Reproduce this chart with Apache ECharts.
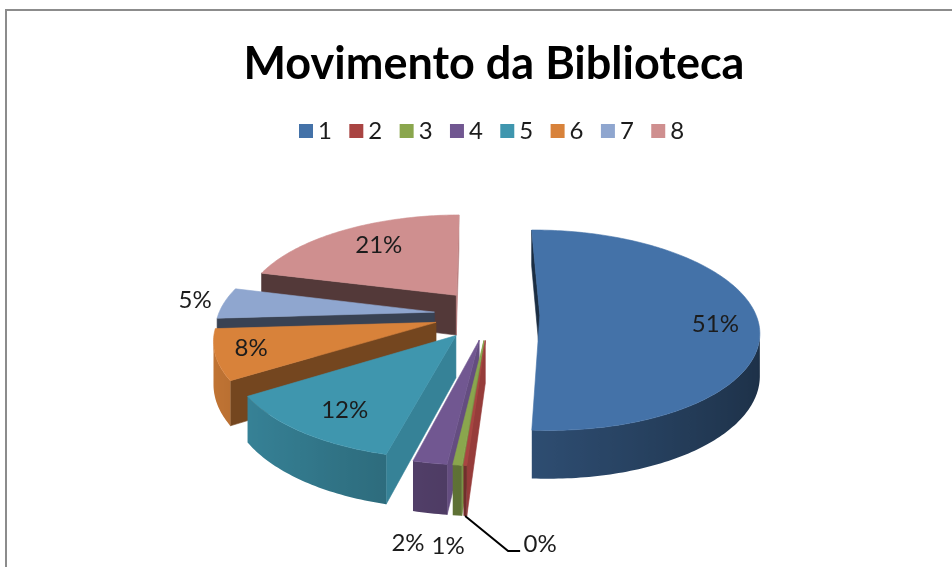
<!DOCTYPE html>
<html>
<head>
<meta charset="utf-8">
<title>Movimento da Biblioteca</title>
<script src="https://cdn.jsdelivr.net/npm/echarts@6/dist/echarts.min.js"></script>
<style>
html, body { margin: 0; padding: 0; background: #fff; overflow: hidden; }
#chart { width: 952px; height: 567px; }
</style>
</head>
<body>
<div id="chart"></div>
<script>
"use strict";
var categories = ['1', '2', '3', '4', '5', '6', '7', '8'];
var values = [51.2, 0.2, 0.55, 2.1, 12.1, 8, 5, 20.85];
var colors = ['#4472a8', '#a94442', '#8aa64d', '#715791', '#3f96ae', '#d8823a', '#8fa6cf', '#cf8f8f'];

// how far each slice is pulled out of the pie, in pie radii
var explosions = [0.233, 0.257, 0.257, 0.257, 0.257, 0.257, 0.257, 0.257];

// label placement: radius factor along the slice bisector, then a nudge in px
var labelLayout = [
    [0.79, 4, 7],
    [1, 0, 0],
    [1.1, -6, 66],
    [1.1, -16, 66],
    [0.68, -11, 12],
    [0.8, -10, 0],
    [1.11, -6, -2],
    [0.75, 9, 0]
];

// pie projection (an exploded disk seen in perspective)
var CX = 489.5, CY = 314.5, R = 216, KV = 97.75, PERSP = 0.15;
var DEPTH = 41, START = -0.5;
var FONT = 'Lato, "Open Sans", sans-serif';

var total = 0;
for (var t = 0; t < values.length; t++) total += values[t];

function project(u, v, down) {
    var s = 1 / (1 - PERSP * v);
    return [CX + R * u * s, CY + (KV * v + (down ? DEPTH : 0)) * s];
}

function shade(hex, f) {
    var n = parseInt(hex.slice(1), 16);
    var r = Math.round(((n >> 16) & 255) * f);
    var g = Math.round(((n >> 8) & 255) * f);
    var b = Math.round((n & 255) * f);
    return 'rgb(' + r + ',' + g + ',' + b + ')';
}

function area2(pts) {
    var sum = 0;
    for (var i = 0; i < pts.length; i++) {
        var a = pts[i], b = pts[(i + 1) % pts.length];
        sum += a[0] * b[1] - b[0] * a[1];
    }
    return sum;
}

function poly(pts, fill) {
    return {
        type: 'polygon',
        shape: { points: pts },
        style: { fill: fill, stroke: fill, lineWidth: 0.6 }
    };
}

function renderSlice(idx) {
    var before = 0;
    for (var i = 0; i < idx; i++) before += values[i];
    var a0 = START + before / total * 360;
    var a1 = a0 + values[idx] / total * 360;
    var mid = (a0 + a1) / 2 * Math.PI / 180;
    var ox = Math.sin(mid) * explosions[idx];
    var oy = -Math.cos(mid) * explosions[idx];
    var base = colors[idx];

    function rim(deg, r, down) {
        var rad = deg * Math.PI / 180;
        return project(ox + r * Math.sin(rad), oy - r * Math.cos(rad), down);
    }
    function radialShade(deg, sign) {
        // sign picks the outward side of the radial face
        var nu = Math.cos(deg * Math.PI / 180) * sign;
        return 0.4 + 0.75 * Math.max(0, nu - 0.35);
    }

    var children = [];
    var apex = project(ox, oy, false), apexDown = project(ox, oy, true);

    var startWall = [apex, rim(a0, 1, false), rim(a0, 1, true), apexDown];
    if (area2(startWall) < 0) children.push(poly(startWall, shade(base, radialShade(a0, -1))));
    var endWall = [apex, rim(a1, 1, false), rim(a1, 1, true), apexDown];
    if (area2(endWall) > 0) children.push(poly(endWall, shade(base, radialShade(a1, 1))));

    // top face, and the part of the outer wall that faces the viewer
    var top = [apex];
    var steps = Math.max(2, Math.ceil(a1 - a0));
    var upper = [], lower = [], tones = [];
    for (var k = 0; k <= steps; k++) {
        var deg = a0 + (a1 - a0) * k / steps;
        var p = rim(deg, 1, false);
        top.push(p);
        var next = rim(deg + 0.5, 1, false);
        if (next[0] < p[0]) {
            upper.push(p);
            lower.unshift(rim(deg, 1, true));
            tones.push([p[0], shade(base, 0.66 - 0.24 * Math.sin(deg * Math.PI / 180))]);
        }
    }
    if (upper.length > 1) {
        var xMax = tones[0][0], xMin = tones[tones.length - 1][0];
        var stops = [];
        for (var m = tones.length - 1; m >= 0; m--) {
            stops.push({ offset: (tones[m][0] - xMin) / (xMax - xMin || 1), color: tones[m][1] });
        }
        var wallFill = new echarts.graphic.LinearGradient(xMin, 0, xMax, 0, stops, true);
        children.push({
            type: 'polygon',
            shape: { points: upper.concat(lower) },
            style: { fill: wallFill }
        });
    }
    children.push(poly(top, base));

    var lay = labelLayout[idx];
    var pos = rim((a0 + a1) / 2, lay[0], false);
    var pct = Math.round(values[idx] / total * 100) + '%';
    if (idx === 1) {
        // smallest slice: the label sits off to the side on a leader line
        var foot = rim((a0 + a1) / 2, 1, true);
        var elbow = [foot[0] + 43, foot[1] + 35];
        var end = [elbow[0] + 12, elbow[1]];
        children.push({
            type: 'polyline',
            shape: { points: [foot, elbow, end] },
            style: { fill: null, stroke: '#000', lineWidth: 2 }
        });
        pos = [end[0] + 20, end[1] - 7];
    } else {
        pos = [pos[0] + lay[1], pos[1] + lay[2]];
    }
    children.push({
        type: 'text',
        z2: 100,
        style: {
            x: pos[0], y: pos[1], text: pct, fill: '#1c1c1c',
            font: '24px ' + FONT, align: 'center', verticalAlign: 'middle'
        }
    });
    return { type: 'group', children: children };
}

var series = [];
for (var i = 0; i < categories.length; i++) {
    (function (idx) {
        series.push({
            type: 'custom',
            name: categories[idx],
            coordinateSystem: 'none',
            silent: true,
            z: categories.length - idx,
            itemStyle: { color: colors[idx] },
            data: [values[idx]],
            renderItem: function () { return renderSlice(idx); }
        });
    })(i);
}

var chart = echarts.init(document.getElementById('chart'), null, { renderer: 'canvas' });
chart.setOption({
    backgroundColor: '#fff',
    animation: false,
    title: {
        text: 'Movimento da Biblioteca',
        left: 489, top: 37, textAlign: 'center',
        textStyle: { fontFamily: FONT, fontSize: 45, fontWeight: 'bold', color: '#000' }
    },
    legend: {
        data: categories,
        left: 294, top: 114,
        icon: 'rect',
        itemWidth: 14, itemHeight: 14, itemGap: 17.4,
        textStyle: { fontFamily: FONT, fontSize: 24, color: '#1c1c1c' }
    },
    graphic: [{
        type: 'rect',
        silent: true,
        shape: { x: 6, y: 10, width: 1000, height: 700 },
        style: { fill: null, stroke: '#8c8c8c', lineWidth: 2 }
    }],
    series: series
});
</script>
</body>
</html>
